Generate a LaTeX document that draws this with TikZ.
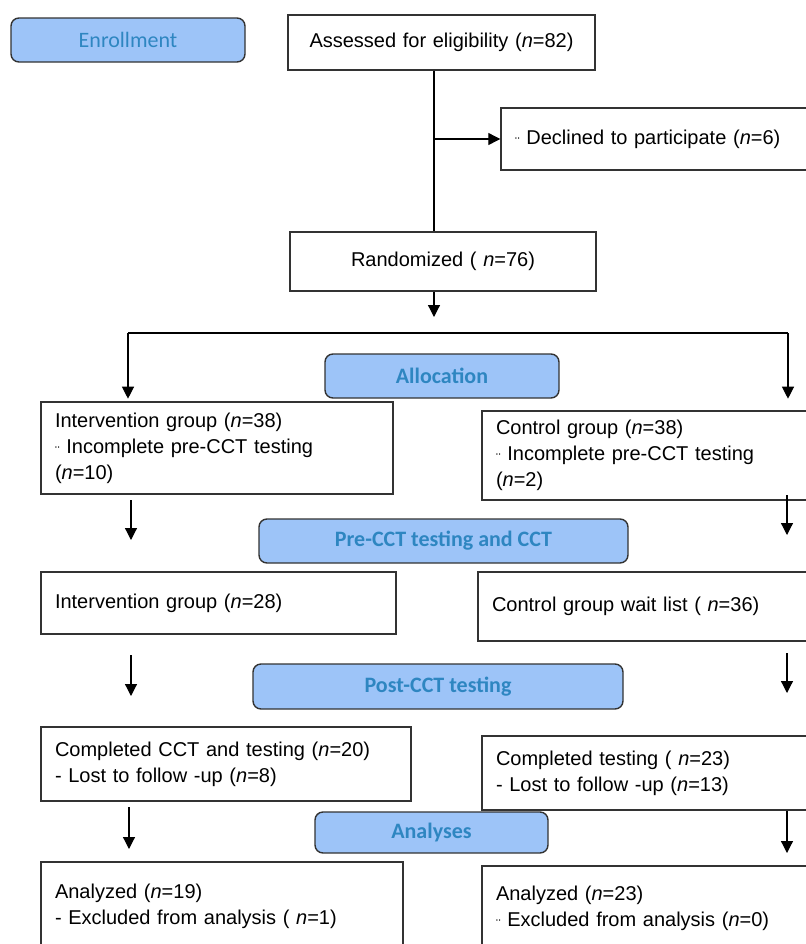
\documentclass[tikz,border=0pt]{standalone}
\usepackage{fontspec}
\setmainfont{Liberation Sans}
\newfontfamily\stagefont{Carlito}
\usetikzlibrary{positioning,arrows.meta,calc}
\definecolor{stagefill}{HTML}{9DC4F8}
\definecolor{stagetext}{HTML}{2E86C1}
\newcommand{\bmark}{\raisebox{-0.3ex}{\scriptsize ¨}}

\begin{document}
\begin{tikzpicture}[x=0.5pt,y=-0.5pt,
    stage/.style 2 args={draw=black!80, line width=0.7pt, fill=stagefill, rounded corners=4pt,
        minimum width=#1*0.5pt, minimum height=#2*0.5pt, inner sep=0pt, text=stagetext,
        font=\stagefont\bfseries\fontsize{11}{13}\selectfont},
    entry/.style 2 args={draw=black!80, line width=0.7pt, fill=white, inner xsep=7pt, inner ysep=0pt,
        minimum height=#2*0.5pt, text width=#1*0.5pt-14pt, align=left,
        font=\fontsize{10}{13}\selectfont},
    arr/.style={-{Triangle[width=6pt,length=6pt]}, line width=0.6pt}]
    \useasboundingbox (0,0) rectangle (806,944);

    % Stage labels
    \node[stage={234}{44}, font=\stagefont\fontsize{11}{13}\selectfont] (enroll) at (128,40) {Enrollment};
    \node[stage={234}{44}] (alloc) at (442,376) {Allocation};
    \node[stage={369}{44}] (precct) at (443.5,541) {Pre-CCT testing and CCT};
    \node[stage={370}{45}] (post) at (438,686.5) {Post-CCT testing};
    \node[stage={233}{41}] (analyses) at (431.5,832.5) {Analyses};

    % Enrollment
    \node[entry={307}{55}, align=center] (assess) at (441.5,42.5) {Assessed for eligibility (\textit{n}=82)};
    \node[entry={330}{62}] (declined) at (666,139) {\bmark\ Declined to participate (\textit{n}=6)};
    \node[entry={306}{59}, align=center] (random) at (443,261.5) {Randomized ( \textit{n}=76)};

    % Intervention arm
    \node[entry={352}{92}] (intv1) at (217,448) {Intervention group (\textit{n}=38)\\ \bmark\ Incomplete pre-CCT testing\\ (\textit{n}=10)};
    \node[entry={355}{62}] (intv2) at (218.5,603) {Intervention group (\textit{n}=28)};
    \node[entry={370}{74}] (intv3) at (226,764) {Completed CCT and testing (\textit{n}=20)\\ - Lost to follow -up (\textit{n}=8)};
    \node[entry={362}{88}] (intv4) at (222,906) {Analyzed (\textit{n}=19)\\ - Excluded from analysis ( \textit{n}=1)};

    % Control arm
    \node[entry={348}{89}] (ctrl1) at (656,455.5) {Control group (\textit{n}=38)\\ \bmark\ Incomplete pre-CCT testing\\ (\textit{n}=2)};
    \node[entry={352}{69}] (ctrl2) at (654,606.5) {Control group wait list ( \textit{n}=36)};
    \node[entry={348}{74}] (ctrl3) at (656,773) {Completed testing ( \textit{n}=23)\\ - Lost to follow -up (\textit{n}=13)};
    \node[entry={348}{84}] (ctrl4) at (656,908) {Analyzed (\textit{n}=23)\\ \bmark\ Excluded from analysis (\textit{n}=0)};

    % Spine and split
    \coordinate (spine) at (434,0);
    \coordinate (split) at (434,317);
    \coordinate (lsplit) at (128,333);
    \coordinate (rsplit) at (788,333);
    \draw[line width=0.6pt] (assess.south -| spine) -- (random.north -| spine);
    \draw[arr] (spine |- declined.west) -- (declined.west);
    \draw[arr] (random.south -| spine) -- (split);
    \draw[line width=0.6pt] (lsplit) -- (rsplit);
    \draw[line width=1.3pt] (416,333) -- (501,333);
    \draw[arr] (lsplit) -- (lsplit |- alloc.south);
    \draw[arr] (rsplit) -- (rsplit |- alloc.south);

    % Stage arrows
    \coordinate (la1) at (131,500); \coordinate (lb1) at (131,540);
    \coordinate (ra1) at (787,495); \coordinate (rb1) at (787,535);
    \coordinate (la2) at (131,655); \coordinate (lb2) at (131,696);
    \coordinate (ra2) at (787,653); \coordinate (rb2) at (787,693);
    \coordinate (la3) at (129,807); \coordinate (lb3) at (129,849);
    \coordinate (ra3) at (787,811); \coordinate (rb3) at (787,853);
    \foreach \i in {1,2,3} {
        \draw[arr] (la\i) -- (lb\i);
        \draw[arr] (ra\i) -- (rb\i);
    }
\end{tikzpicture}
\end{document}
